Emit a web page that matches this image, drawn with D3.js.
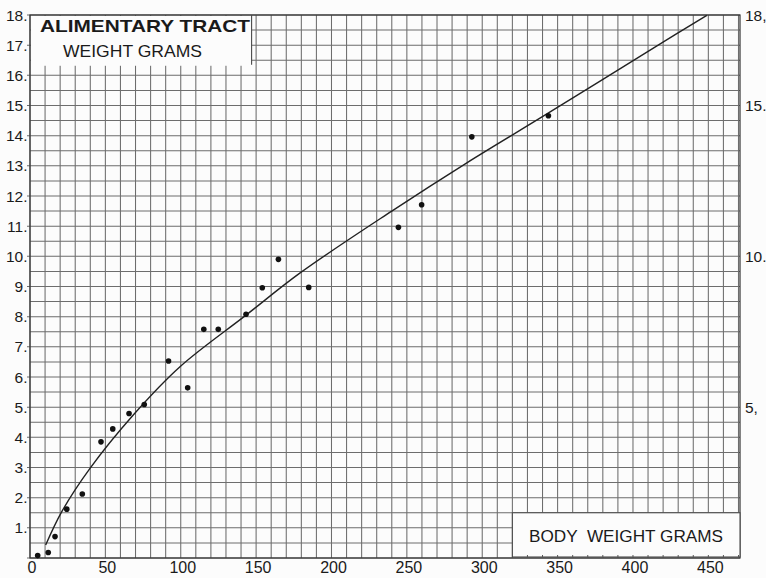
<!DOCTYPE html>
<html><head><meta charset="utf-8">
<script src="https://cdn.jsdelivr.net/npm/d3@7"></script>
<style>body{margin:0;background:#fcfcfc} svg{display:block}</style>
</head><body>
<svg id="c" width="766" height="578"></svg>
<script>
// observed points: body weight (g) vs alimentary tract weight (g)
const bodyWeight  = [5.1, 12.1, 16.6, 24.4, 34.7, 47.1, 54.9, 65.7, 75.8, 91.9, 104.6, 115.3, 124.9, 143.3, 154.1, 164.8, 184.9, 244.4, 259.8, 293.1, 343.9];
const tractWeight = [0.08, 0.18, 0.71, 1.62, 2.12, 3.85, 4.28, 4.79, 5.09, 6.53, 5.64, 7.58, 7.58, 8.08, 8.96, 9.90, 8.97, 10.96, 11.71, 13.96, 14.66];
// drawn curve
const curveX = [10.4, 21.0, 39.8, 68.5, 99.5, 143.3, 179.2, 240.0, 289.8, 342.9, 420.2, 449.0];
const curveY = [0.43, 1.53, 2.97, 4.74, 6.34, 8.05, 9.45, 11.5, 13.1, 14.72, 17.11, 17.99];
const xTickValues = [0, 50, 100, 150, 200, 250, 300, 350, 400, 450];
const yTickValues = [1,2,3,4,5,6,7,8,9,10,11,12,13,14,15,16,17,18];
const yRightValues = [18, 15, 10, 5];
const yRightLabels = ["18,", "15.", "10.", "5,"];
const titleLines = ["ALIMENTARY TRACT", "WEIGHT GRAMS"];
const xTitle = "BODY  WEIGHT GRAMS";

const svg = d3.select("#c");
const x = d3.scaleLinear().domain([0, 471]).range([30, 740]);
const y = d3.scaleLinear().domain([0, 18]).range([558, 15]);
const font = "'Liberation Sans', Arial, sans-serif";
const ink = "#1a1a1a";

svg.append("rect").attr("width", 766).attr("height", 578).attr("fill", "#fcfcfc");

const grid = svg.append("g").attr("stroke", "#4a4a4a").attr("stroke-width", 1.05).attr("opacity", 0.8);
grid.selectAll("line.v").data(d3.range(0, 471, 10)).join("line")
  .attr("x1", d => x(d)).attr("x2", d => x(d)).attr("y1", y(18)).attr("y2", y(0));
grid.selectAll("line.h").data(d3.range(0, 18.01, 0.5)).join("line")
  .attr("x1", d => Number.isInteger(d) ? x(0) - 3 : x(0)).attr("x2", x(471)).attr("y1", d => y(d)).attr("y2", d => y(d));
// frame
svg.append("rect").attr("x", x(0)).attr("y", y(18)).attr("width", x(471) - x(0)).attr("height", y(0) - y(18))
  .attr("fill", "none").attr("stroke", "#333").attr("stroke-width", 1.2);

// title box (upper left)
svg.append("rect").attr("x", x(0) + 1).attr("y", y(18) + 1).attr("width", x(147) - x(0) - 1).attr("height", y(16.35) - y(18))
  .attr("fill", "#fcfcfc");
svg.append("line").attr("x1", x(147)).attr("x2", x(147)).attr("y1", y(18)).attr("y2", y(16.35))
  .attr("stroke", "#4a4a4a").attr("stroke-width", 1.1);
svg.append("text").attr("x", 40).attr("y", 32).attr("font-family", font).attr("font-weight", "bold")
  .attr("font-size", 17).attr("fill", ink).attr("textLength", 210).attr("lengthAdjust", "spacingAndGlyphs")
  .text(titleLines[0]);
svg.append("text").attr("x", 63).attr("y", 57).attr("font-family", font)
  .attr("font-size", 16.5).attr("fill", ink).attr("textLength", 139).attr("lengthAdjust", "spacingAndGlyphs")
  .text(titleLines[1]);

// axis title box (lower right)
svg.append("rect").attr("x", x(320)).attr("y", y(1.5)).attr("width", x(471) - x(320)).attr("height", y(0) - y(1.5) - 1)
  .attr("fill", "#fcfcfc").attr("stroke", "#4a4a4a").attr("stroke-width", 1.1);
svg.append("g").attr("stroke", "#555").attr("stroke-width", 1)
  .selectAll("line").data(d3.range(330, 471, 10)).join("line")
  .attr("x1", d => x(d)).attr("x2", d => x(d)).attr("y1", y(0) - 3).attr("y2", y(0));
svg.append("text").attr("x", 529).attr("y", 542).attr("font-family", font)
  .attr("font-size", 16.5).attr("fill", ink).attr("textLength", 194).attr("lengthAdjust", "spacingAndGlyphs")
  .attr("xml:space", "preserve").style("white-space", "pre")
  .text(xTitle);

// bottom axis labels
svg.append("g").selectAll("text").data(xTickValues).join("text")
  .attr("x", d => x(d) + 2).attr("y", 573).attr("text-anchor", "middle")
  .attr("font-family", font).attr("font-size", 16).attr("fill", ink).text(d => d);
// left axis labels
svg.append("g").selectAll("text").data(yTickValues).join("text")
  .attr("x", 27.5).attr("y", d => y(d)).attr("dy", "0.36em").attr("text-anchor", "end")
  .attr("font-family", font).attr("font-size", 15.5).attr("fill", ink).text(d => d + ".");
// right axis labels
svg.append("g").selectAll("text").data(yRightValues).join("text")
  .attr("x", 745).attr("y", d => y(d)).attr("dy", "0.36em")
  .attr("font-family", font).attr("font-size", 15.5).attr("fill", ink).text((d, i) => yRightLabels[i]);

// curve
const curvePts = curveX.map((v, i) => [v, curveY[i]]);
svg.append("path").datum(curvePts)
  .attr("d", d3.line().x(d => x(d[0])).y(d => y(d[1])).curve(d3.curveCatmullRom.alpha(0.5)))
  .attr("fill", "none").attr("stroke", "#222").attr("stroke-width", 1.4);

// points
svg.append("g").selectAll("circle").data(bodyWeight).join("circle")
  .attr("cx", d => x(d)).attr("cy", (d, i) => y(tractWeight[i])).attr("r", 2.8).attr("fill", "#111");
</script>
</body></html>
